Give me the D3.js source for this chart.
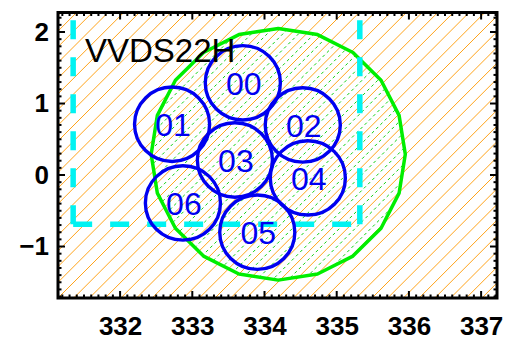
<!DOCTYPE html>
<html>
<head>
<meta charset="utf-8">
<script src="https://cdn.jsdelivr.net/npm/d3@7"></script>
<style>
  html, body { margin: 0; padding: 0; background: #fff; }
  svg { display: block; }
</style>
</head>
<body>
<svg id="chart" width="505" height="341"></svg>
<script>
// Axis ticks
const xTicks = [332, 333, 334, 335, 336, 337];
const yTicks = [-1, 0, 1, 2];
const xDomain = [331.14, 337.22];
const yDomain = [-1.72, 2.273];

// Field label
const fieldName = "VVDS22H";

// Pointing footprints (RA, Dec centres in degrees)
const pointingIds = ["00", "01", "02", "03", "04", "05", "06"];
const pointingRA = [333.70, 332.72, 334.53, 333.59, 334.60, 333.90, 332.87];
const pointingDec = [1.29, 0.71, 0.70, 0.21, -0.04, -0.80, -0.39];
const pointingRadius = [0.52, 0.52, 0.52, 0.52, 0.52, 0.52, 0.52];

// Large survey region (polygonal circle)
const regionCenter = [334.19, 0.29];
const regionRadius = [1.76];
const regionSides = [20];

// Rectangular field boundary (RA range, Dec range)
const boxRA = [331.35, 335.32];
const boxDec = [-0.69, 2.6];

(function draw() {
  const svg = d3.select("#chart");
  const pL = 58, pR = 497, pT = 12.5, pB = 298;

  const x = d3.scaleLinear().domain(xDomain).range([pL, pR]);
  const y = d3.scaleLinear().domain(yDomain).range([pB, pT]);

  const defs = svg.append("defs");
  defs.append("clipPath").attr("id", "plotClip")
    .append("rect").attr("x", pL).attr("y", pT)
    .attr("width", pR - pL).attr("height", pB - pT);

  // Survey region polygon
  const regionPts = d3.range(regionSides[0]).map(k => {
    const t = k * 2 * Math.PI / regionSides[0];
    return [x(regionCenter[0] + regionRadius[0] * Math.cos(t)),
            y(regionCenter[1] + regionRadius[0] * Math.sin(t))];
  });
  const regionPath = "M" + regionPts.map(p => p.join(",")).join("L") + "Z";
  defs.append("clipPath").attr("id", "regionClip")
    .append("path").attr("d", regionPath);

  const plot = svg.append("g").attr("clip-path", "url(#plotClip)");

  // Diagonal hatching across the whole plot
  const hatchStep = 15.7, hatchPhase = 356;
  function hatchLines(g, phase, color, dash) {
    const cs = [];
    for (let c = phase - 60 * hatchStep; c < pR + pB + hatchStep; c += hatchStep) {
      if (c > pL + pT - hatchStep) cs.push(c);
    }
    g.selectAll("line").data(cs).join("line")
      .attr("x1", c => c - pB - 5).attr("y1", pB + 5)
      .attr("x2", c => c - pT + 5).attr("y2", pT - 5)
      .attr("stroke", color).attr("stroke-width", 1)
      .attr("stroke-dasharray", dash);
  }
  hatchLines(plot.append("g"), hatchPhase, "#ffa31a", null);
  hatchLines(plot.append("g").attr("clip-path", "url(#regionClip)"),
             hatchPhase + hatchStep / 2, "#11d011", "3,3");

  // Region outline
  plot.append("path").attr("d", regionPath)
    .attr("fill", "none").attr("stroke", "#00ee00").attr("stroke-width", 3.5)
    .attr("stroke-linejoin", "round");

  // Dashed field boundary: each edge starts its dash pattern at a corner
  const bx0 = x(boxRA[0]), bx1 = x(boxRA[1]), by0 = y(boxDec[0]), by1 = y(boxDec[1]);
  const boxEdges = [
    [[bx0, by0], [bx0, by1]],
    [[bx0, by0], [bx1, by0]],
    [[bx1, by0], [bx1, by1]]
  ];
  plot.append("g").selectAll("path").data(boxEdges).join("path")
    .attr("d", d => `M${d[0][0]},${d[0][1]}L${d[1][0]},${d[1][1]}`)
    .attr("fill", "none").attr("stroke", "#00f2f2").attr("stroke-width", 5.5)
    .attr("stroke-dasharray", "19,18");

  // Pointings
  const pointings = pointingIds.map((id, i) => ({
    id, ra: pointingRA[i], dec: pointingDec[i], r: pointingRadius[i]
  }));
  plot.append("g").selectAll("ellipse").data(pointings).join("ellipse")
    .attr("cx", d => x(d.ra)).attr("cy", d => y(d.dec))
    .attr("rx", d => x(d.ra + d.r) - x(d.ra))
    .attr("ry", d => y(d.dec) - y(d.dec + d.r))
    .attr("fill", "none").attr("stroke", "#0000f0").attr("stroke-width", 3.4);
  plot.append("g").selectAll("text").data(pointings).join("text")
    .attr("x", d => x(d.ra) + 1).attr("y", d => y(d.dec) + 12)
    .attr("text-anchor", "middle")
    .attr("font-family", "Liberation Sans, Arial, sans-serif")
    .attr("font-size", 32).attr("fill", "#0000f0")
    .text(d => d.id);

  // Field name
  svg.append("text").attr("x", 85).attr("y", 62)
    .attr("font-family", "Liberation Sans, Arial, sans-serif")
    .attr("font-size", 33).attr("fill", "#000")
    .text(fieldName);

  // Frame with major and minor ticks on all four sides
  const frame = svg.append("g");
  const xMinor = d3.range(Math.ceil(xDomain[0] * 10), Math.floor(xDomain[1] * 10) + 1).map(v => v / 10);
  const yMinor = d3.range(Math.ceil(yDomain[0] * 10), Math.floor(yDomain[1] * 10) + 1).map(v => v / 10);
  const majorLen = 7, minorLen = 3.5;
  const tickW = 2;
  const isMajor = (v, list) => list.some(t => Math.abs(t - v) < 1e-6);
  xMinor.forEach(v => {
    const len = isMajor(v, xTicks) ? majorLen : minorLen;
    frame.append("line").attr("x1", x(v)).attr("x2", x(v))
      .attr("y1", pB).attr("y2", pB - len)
      .attr("stroke", "#000").attr("stroke-width", tickW);
    frame.append("line").attr("x1", x(v)).attr("x2", x(v))
      .attr("y1", pT).attr("y2", pT + len)
      .attr("stroke", "#000").attr("stroke-width", tickW);
  });
  yMinor.forEach(v => {
    const len = isMajor(v, yTicks) ? majorLen : minorLen;
    frame.append("line").attr("y1", y(v)).attr("y2", y(v))
      .attr("x1", pL).attr("x2", pL + len)
      .attr("stroke", "#000").attr("stroke-width", tickW);
    frame.append("line").attr("y1", y(v)).attr("y2", y(v))
      .attr("x1", pR).attr("x2", pR - len)
      .attr("stroke", "#000").attr("stroke-width", tickW);
  });
  frame.append("rect").attr("x", pL).attr("y", pT)
    .attr("width", pR - pL).attr("height", pB - pT)
    .attr("fill", "none").attr("stroke", "#000").attr("stroke-width", 3);

  // Tick labels
  const xAxis = d3.axisBottom(x).tickValues(xTicks).tickSize(0).tickPadding(0)
    .tickFormat(d3.format("d"));
  const gx = svg.append("g").attr("transform", `translate(0,${pB})`).call(xAxis);
  gx.select(".domain").remove();
  gx.selectAll("text").attr("font-family", "Liberation Sans, Arial, sans-serif")
    .attr("font-weight", "bold").attr("font-size", 26).attr("fill", "#000")
    .attr("y", 37).attr("dy", null);

  const yAxis = d3.axisLeft(y).tickValues(yTicks).tickSize(0).tickPadding(9)
    .tickFormat(d => d < 0 ? "\u2212" + Math.abs(d) : String(d));
  const gy = svg.append("g").attr("transform", `translate(${pL},0)`).call(yAxis);
  gy.select(".domain").remove();
  gy.selectAll("text").attr("font-family", "Liberation Sans, Arial, sans-serif")
    .attr("font-weight", "bold").attr("font-size", 26).attr("fill", "#000");
})();
</script>
</body>
</html>
